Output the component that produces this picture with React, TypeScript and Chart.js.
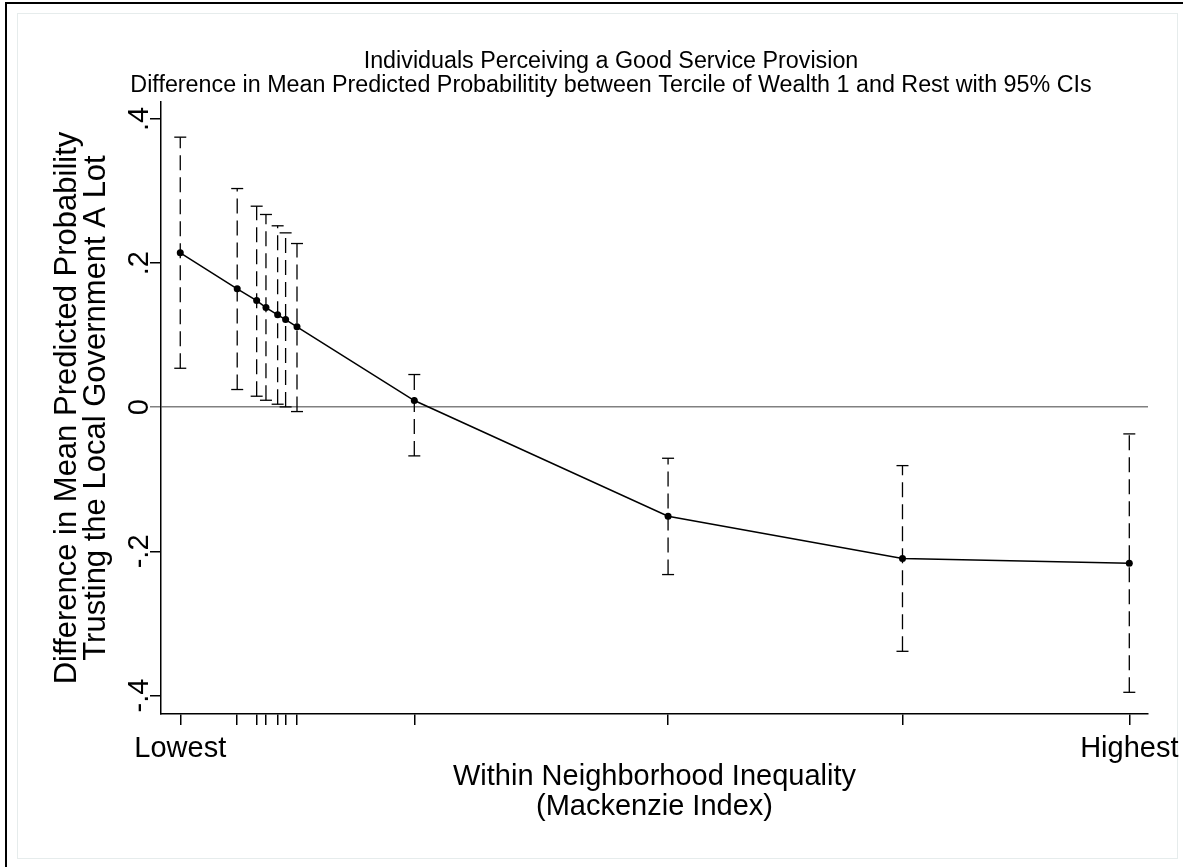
import React, { useEffect, useRef } from "react";
import { Chart, registerables } from "chart.js";

Chart.register(...registerables);

// Data (x: position of neighborhood inequality, 0 = lowest, 1 = highest)
const xPositions = [0, 0.06, 0.0805, 0.0903, 0.1026, 0.111, 0.123, 0.2466, 0.514, 0.761, 1];
const estimates = [0.2143, 0.1643, 0.148, 0.1384, 0.1282, 0.1217, 0.1116, 0.0093, -0.1513, -0.21, -0.2165];
const ciLower = [0.0541, 0.0246, 0.0153, 0.0097, 0.0042, 0.0005, -0.006, -0.0675, -0.2322, -0.3387, -0.3956];
const ciUpper = [0.3748, 0.3035, 0.279, 0.2675, 0.2518, 0.242, 0.2272, 0.0454, -0.0708, -0.081, -0.037];
const yTicks = [-0.4, -0.2, 0, 0.2, 0.4];
const yTickLabels = ["-.4", "-.2", "0", ".2", ".4"];
const xEndLabels = ["Lowest", "Highest"];

const titleLines = [
  "Individuals Perceiving a Good Service Provision",
  "Difference in Mean Predicted Probabilitity between Tercile of Wealth 1 and Rest with 95% CIs",
];
const yTitleLines = ["Difference in Mean Predicted Probability", "Trusting the Local Government A Lot"];
const xTitleLines = ["Within Neighborhood Inequality", "(Mackenzie Index)"];

const FONT = "'Liberation Sans', Arial, Helvetica, sans-serif";

const framePlugin = {
  id: "frame",
  beforeDraw(chart: any) {
    const ctx = chart.ctx;
    ctx.save();
    ctx.fillStyle = "#ffffff";
    ctx.fillRect(0, 0, chart.width, chart.height);
    ctx.fillStyle = "#000000";
    ctx.fillRect(5, 2, chart.width - 5, 2);
    ctx.fillRect(5, 2, 2, chart.height - 2);
    ctx.strokeStyle = "#e6ecec";
    ctx.lineWidth = 1;
    ctx.strokeRect(17.5, 13.5, 1160, 845);
    ctx.restore();
  },
};

export default function App() {
  const ref = useRef<HTMLCanvasElement | null>(null);

  useEffect(() => {
    if (!ref.current) return;
    const ciDatasets = xPositions.map((x, i) => ({
      type: "line" as const,
      data: [
        { x, y: ciLower[i] },
        { x, y: ciUpper[i] },
      ],
      borderColor: "#000000",
      borderWidth: 1.3,
      borderDash: [15, 7],
      pointStyle: "line" as const,
      pointRadius: 6,
      pointBorderWidth: 1.3,
      pointBorderColor: "#000000",
      pointBackgroundColor: "#000000",
      fill: false,
      order: 2,
    }));

    const chart = new Chart(ref.current, {
      type: "line",
      data: {
        datasets: [
          {
            data: xPositions.map((x, i) => ({ x, y: estimates[i] })),
            borderColor: "#000000",
            borderWidth: 1.5,
            pointRadius: 3.5,
            pointBackgroundColor: "#000000",
            pointBorderColor: "#000000",
            pointBorderWidth: 0,
            fill: false,
            order: 1,
          } as any,
          ...ciDatasets,
        ],
      },
      options: {
        animation: false,
        responsive: false,
        events: [],
        layout: { padding: { left: 74, right: 35, top: 0, bottom: 0 } },
        plugins: {
          legend: { display: false },
          tooltip: { enabled: false },
          title: {
            display: true,
            fullSize: true,
            text: titleLines,
            color: "#000000",
            font: { family: FONT, size: 23.3, weight: "normal", lineHeight: 24 / 23.3 },
            padding: { top: 50, bottom: 4 },
          },
        },
        scales: {
          x: {
            type: "linear",
            min: -0.0203,
            max: 1.0197,
            afterBuildTicks: (s: any) => {
              s.ticks = xPositions.map((v) => ({ value: v }));
            },
            afterFit: (s: any) => {
              s.height = 153;
              s.paddingLeft = 0;
              s.paddingRight = 0;
            },
            ticks: {
              autoSkip: false,
              maxRotation: 0,
              minRotation: 0,
              padding: 7,
              color: "#000000",
              font: { family: FONT, size: 29 },
              callback: (_v: any, i: number) =>
                i === 0 ? xEndLabels[0] : i === xPositions.length - 1 ? xEndLabels[1] : "",
            },
            grid: {
              drawOnChartArea: false,
              tickLength: 11,
              tickColor: "#000000",
              lineWidth: 1.5,
            },
            border: { display: true, color: "#000000", width: 1.5 },
            title: {
              display: true,
              text: xTitleLines,
              color: "#000000",
              font: { family: FONT, size: 29, lineHeight: 30 / 29 },
              padding: { top: 0, bottom: 45 },
            },
          },
          y: {
            type: "linear",
            min: -0.4257,
            max: 0.4236,
            afterBuildTicks: (s: any) => {
              s.ticks = yTicks.map((v) => ({ value: v }));
            },
            afterFit: (s: any) => {
              s.width = 87;
              s.paddingTop = 0;
              s.paddingBottom = 0;
            },
            ticks: {
              autoSkip: false,
              minRotation: 90,
              maxRotation: 90,
              crossAlign: "center",
              padding: -7,
              color: "#000000",
              font: { family: FONT, size: 29 },
              callback: (_v: any, i: number) => yTickLabels[i],
            },
            grid: {
              drawOnChartArea: true,
              tickLength: 11,
              color: (c: any) => (c.tick && c.tick.value === 0 ? "#808080" : "rgba(0,0,0,0)"),
              tickColor: (c: any) => (c.tick && c.tick.value === 0 ? "#808080" : "#000000"),
              lineWidth: 1.5,
            },
            border: { display: true, color: "#000000", width: 1.5 },
            title: {
              display: true,
              text: yTitleLines,
              color: "#000000",
              font: { family: FONT, size: 31, lineHeight: 29 / 31 },
              padding: { top: -21.5, bottom: 0 },
            },
          },
        },
      } as any,
      plugins: [framePlugin],
    });
    return () => chart.destroy();
  }, []);

  return (
    <div style={{ position: "absolute", left: 0, top: 0, width: 1183, height: 867 }}>
      <canvas ref={ref} width={1183} height={867} style={{ display: "block", width: 1183, height: 867 }} />
    </div>
  );
}
